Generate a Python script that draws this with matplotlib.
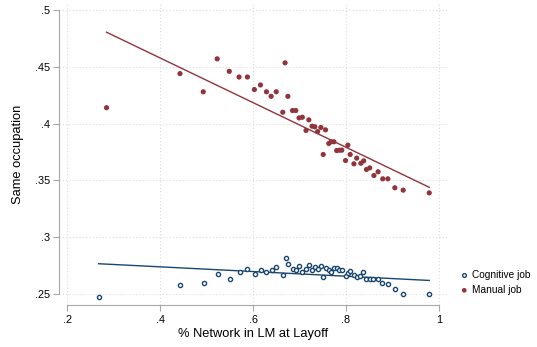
import numpy as np
import matplotlib.pyplot as plt

# binned scatter: share of network in local labour market vs same occupation
manual_x = [0.285, 0.443, 0.493, 0.523, 0.549, 0.570, 0.588, 0.603, 0.616, 0.629,
            0.639, 0.650, 0.664, 0.669, 0.675, 0.685, 0.692, 0.699, 0.706, 0.714,
            0.720, 0.727, 0.733, 0.739, 0.746, 0.751, 0.756, 0.763, 0.768, 0.774,
            0.780, 0.786, 0.791, 0.799, 0.804, 0.809, 0.817, 0.823, 0.832, 0.838,
            0.844, 0.851, 0.860, 0.869, 0.879, 0.890, 0.905, 0.923, 0.979]
manual_y = [0.414, 0.444, 0.428, 0.457, 0.446, 0.441, 0.441, 0.430, 0.434, 0.428,
            0.424, 0.428, 0.410, 0.4535, 0.424, 0.4115, 0.4115, 0.405, 0.4056, 0.394,
            0.4033, 0.3977, 0.3972, 0.393, 0.3966, 0.3728, 0.3945, 0.3825, 0.384, 0.384,
            0.3763, 0.3766, 0.3766, 0.3675, 0.381, 0.3728, 0.3646, 0.3696, 0.3651, 0.3672,
            0.3596, 0.361, 0.3543, 0.3576, 0.3514, 0.3514, 0.3435, 0.3414, 0.339]

cog_x = [0.268, 0.444, 0.495, 0.524, 0.550, 0.571, 0.588, 0.604, 0.617, 0.629,
         0.640, 0.650, 0.664, 0.670, 0.675, 0.685, 0.692, 0.699, 0.706, 0.713,
         0.720, 0.727, 0.733, 0.739, 0.746, 0.751, 0.756, 0.763, 0.768, 0.774,
         0.780, 0.786, 0.791, 0.799, 0.804, 0.809, 0.817, 0.823, 0.831, 0.837,
         0.844, 0.852, 0.859, 0.868, 0.878, 0.891, 0.905, 0.923, 0.979]
cog_y = [0.2472, 0.2575, 0.2599, 0.268, 0.2634, 0.2692, 0.2718, 0.2672, 0.2707, 0.2692,
         0.2713, 0.2736, 0.2669, 0.2815, 0.2762, 0.2718, 0.2709, 0.2745, 0.2698, 0.2716,
         0.2751, 0.271, 0.2742, 0.2716, 0.2745, 0.2651, 0.2733, 0.2707, 0.2695, 0.2733,
         0.2733, 0.271, 0.271, 0.266, 0.2683, 0.2701, 0.2663, 0.2654, 0.2657, 0.2692,
         0.263, 0.263, 0.263, 0.263, 0.2595, 0.2584, 0.2546, 0.2504, 0.2496]

# linear fits (estimated on the micro data, so read off the picture: intercept, slope)
manual_fit = (0.5365, -0.1967)
cog_fit = (0.2822, -0.0207)

xticks = [0.2, 0.4, 0.6, 0.8, 1.0]
xtick_labels = ['.2', '.4', '.6', '.8', '1']
yticks = [0.25, 0.3, 0.35, 0.4, 0.45, 0.5]
ytick_labels = ['.25', '.3', '.35', '.4', '.45', '.5']

navy = '#1a476f'
maroon = '#90353b'
axis_grey = '#a8a8a8'

plt.rcParams['font.family'] = ['Liberation Sans', 'DejaVu Sans']

fig = plt.figure(figsize=(5.37, 3.47), dpi=100)
ax = fig.add_axes([59 / 537, 42 / 347, 388 / 537, 301 / 347])

for xv in xticks:
    ax.axvline(xv, color='#dcdcdc', lw=0.8, ls=(0, (1, 2)), zorder=0)
for yv in yticks:
    ax.axhline(yv, color='#dcdcdc', lw=0.8, ls=(0, (1, 2)), zorder=0)

for xs, fit, c in [(cog_x, cog_fit, navy), (manual_x, manual_fit, maroon)]:
    a, b = fit
    xx = np.array([min(xs), max(xs)])
    ax.plot(xx, a + b * xx, color=c, lw=1.0, zorder=2)

ax.scatter(cog_x, cog_y, s=9, facecolors='white', edgecolors=navy, linewidths=1.0,
           label='Cognitive job', zorder=3)
ax.scatter(manual_x, manual_y, s=14, color=maroon, edgecolors='none',
           label='Manual job', zorder=3)

ax.set_xlim(0.2 - 8 / 465, 1.0 + 8 / 465)
ax.set_ylim(0.25 - 11 / 1136, 0.5 + 6 / 1136)

ax.set_xticks(xticks)
ax.set_xticklabels(xtick_labels)
ax.set_yticks(yticks)
ax.set_yticklabels(ytick_labels)

for s in ['top', 'right']:
    ax.spines[s].set_visible(False)
ax.spines['left'].set_bounds(0.25, 0.5)
ax.spines['bottom'].set_bounds(0.2, 1.0)
for s in ['left', 'bottom']:
    ax.spines[s].set_color(axis_grey)
    ax.spines[s].set_linewidth(0.8)
ax.tick_params(axis='both', colors=axis_grey, labelcolor='black', labelsize=7.8,
               length=4, width=0.8)
ax.tick_params(axis='y', pad=2.5)

ax.set_xlabel('% Network in LM at Layoff', fontsize=9.3, labelpad=2)
ax.set_ylabel('Same occupation', fontsize=9.3, labelpad=8)

ax.legend(loc='center left', bbox_to_anchor=(1.0, 0.075), frameon=False,
          fontsize=7.3, handlelength=1.0, handletextpad=0.3, labelspacing=0.5,
          borderpad=0, borderaxespad=1.2, markerscale=0.9)

fig.savefig('out.png', dpi=100)
